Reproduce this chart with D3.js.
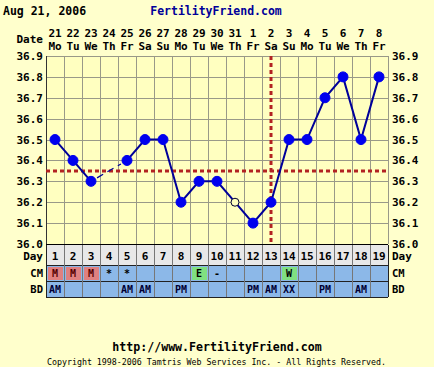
<!DOCTYPE html>
<html>
<head>
<title>Chart</title>
<script src="https://cdnjs.cloudflare.com/ajax/libs/d3/7.8.5/d3.min.js"></script>
<style>
	body { margin: 0; background: #ffffcc; }
	svg { display: block; font-family: "DejaVu Sans Mono", monospace; font-weight: bold; }
</style>
</head>
<body>
<script>
	// data
	var days = [1,2,3,4,5,6,7,8,9,10,11,12,13,14,15,16,17,18,19];
	var dates = ["21","22","23","24","25","26","27","28","29","30","31","1","2","3","4","5","6","7","8"];
	var weekdays = ["Mo","Tu","We","Th","Fr","Sa","Su","Mo","Tu","We","Th","Fr","Sa","Su","Mo","Tu","We","Th","Fr"];
	var temps = [36.5,36.4,36.3,null,36.4,36.5,36.5,36.2,36.3,36.3,36.2,36.1,36.2,36.5,36.5,36.7,36.8,36.5,36.8];
	var discarded = [11];
	var cm = ["M","M","M","*","*","","","","E","-","","","","W","","","","",""];
	var bd = ["AM","","","","AM","AM","","PM","","","","PM","AM","XX","","PM","","AM",""];
	var tempTicks = [36.0,36.1,36.2,36.3,36.4,36.5,36.6,36.7,36.8,36.9];
	var coverline = 36.35;
	var ovulationDay = 13;

	var width = 434, height = 367;
	var plotLeft = 46, plotRight = 388, plotTop = 56, plotBottom = 244;

	var svg = d3.select("body").append("svg")
		.attr("width", width).attr("height", height);

	var x = d3.scaleBand().domain(days).range([plotLeft, plotRight]);
	var y = d3.scaleLinear().domain([36.0, 36.9]).range([plotBottom, plotTop]);
	var cx = function(d) { return x(d) + x.bandwidth() / 2; };
	var edge = function(d) { return (d == 20 ? plotRight : x(d)) + 0.5; };

	// header
	svg.append("text").attr("x", 3).attr("y", 15).style("font-size", "11.5px").text("Aug 21, 2006");
	svg.append("text").attr("x", 216).attr("y", 15).attr("text-anchor", "middle")
		.style("font-size", "11.5px").attr("fill", "#000099").text("FertilityFriend.com");

	svg.append("text").attr("x", 43).attr("y", 43).attr("text-anchor", "end").style("font-size", "11px").text("Date");
	svg.selectAll(".date").data(days).enter().append("text")
		.attr("x", cx).attr("y", 37).attr("text-anchor", "middle").style("font-size", "11px")
		.text(function(d, i) { return dates[i]; });
	svg.selectAll(".wd").data(days).enter().append("text")
		.attr("x", cx).attr("y", 50).attr("text-anchor", "middle").style("font-size", "11px")
		.text(function(d, i) { return weekdays[i]; });

	// plot area
	svg.append("rect").attr("x", plotLeft).attr("y", plotTop).attr("width", plotRight - plotLeft).attr("height", plotBottom - plotTop)
		.attr("fill", "#ffffc0");
	svg.selectAll(".hg").data(tempTicks).enter().append("line")
		.attr("x1", plotLeft).attr("x2", plotRight)
		.attr("y1", function(d) { return Math.round(y(d)) + 0.5; })
		.attr("y2", function(d) { return Math.round(y(d)) + 0.5; })
		.attr("stroke", "#999988").attr("stroke-width", 1);
	svg.selectAll(".vg").data(days.concat([20])).enter().append("line")
		.attr("x1", edge).attr("x2", edge)
		.attr("y1", plotTop).attr("y2", plotBottom)
		.attr("stroke", "#999988").attr("stroke-width", 1);
	svg.append("line").attr("x1", plotLeft + 0.5).attr("x2", plotLeft + 0.5).attr("y1", plotTop).attr("y2", plotBottom).attr("stroke", "#333");

	// tick labels
	svg.selectAll(".yl").data(tempTicks).enter().append("text")
		.attr("x", 43).attr("y", function(d) { return y(d) + 4; }).attr("text-anchor", "end")
		.style("font-size", "11px").text(function(d) { return d.toFixed(1); });
	svg.selectAll(".yr").data(tempTicks).enter().append("text")
		.attr("x", 392).attr("y", function(d) { return y(d) + 4; })
		.style("font-size", "11px").text(function(d) { return d.toFixed(1); });

	// coverline and ovulation line
	svg.append("line").attr("x1", plotLeft).attr("x2", plotRight).attr("y1", y(coverline)).attr("y2", y(coverline))
		.attr("stroke", "#b22222").attr("stroke-width", 3).attr("stroke-dasharray", "4,3");
	svg.append("line").attr("x1", cx(ovulationDay)).attr("x2", cx(ovulationDay)).attr("y1", plotTop).attr("y2", plotBottom)
		.attr("stroke", "#b22222").attr("stroke-width", 3).attr("stroke-dasharray", "4,3");

	// temperature line
	var pts = days.map(function(d, i) { return { day: d, t: temps[i] }; });
	var line = d3.line().defined(function(d) { return d.t != null; })
		.x(function(d) { return cx(d.day); }).y(function(d) { return y(d.t); });
	svg.append("path").datum(pts).attr("d", line).attr("fill", "none")
		.attr("stroke", "#000099").attr("stroke-width", 2);

	// dashed across gaps
	var valid = pts.filter(function(d) { return d.t != null; });
	for (var i = 1; i < valid.length; i++) {
		if (valid[i].day - valid[i - 1].day > 1) {
			var a = valid[i - 1], b = valid[i];
			var dx = cx(b.day) - cx(a.day), dy = y(b.t) - y(a.t), len = Math.sqrt(dx * dx + dy * dy);
			var sh = 7 / len;
			svg.append("line")
				.attr("x1", cx(a.day) + dx * sh).attr("y1", y(a.t) + dy * sh)
				.attr("x2", cx(b.day) - dx * sh).attr("y2", y(b.t) - dy * sh)
				.attr("stroke", "#000099").attr("stroke-width", 1.3).attr("stroke-dasharray", "7,5");
		}
	}

	svg.selectAll(".pt").data(valid).enter().append("circle")
		.attr("cx", function(d) { return cx(d.day); }).attr("cy", function(d) { return y(d.t); })
		.attr("r", function(d) { return discarded.indexOf(d.day) >= 0 ? 4 : 5; })
		.attr("fill", function(d) { return discarded.indexOf(d.day) >= 0 ? "#ffffc0" : "#0000ee"; })
		.attr("stroke", function(d) { return discarded.indexOf(d.day) >= 0 ? "#000033" : "#0000ee"; })
		.attr("stroke-width", 1);

	svg.append("line").attr("x1", plotLeft).attr("x2", plotRight).attr("y1", plotBottom + 0.5).attr("y2", plotBottom + 0.5).attr("stroke", "#000");

	// table rows
	var rows = [
		{ name: "Day", y0: 245, y1: 265, fill: "#e8e8e8", vals: days.map(String) },
		{ name: "CM", y0: 266, y1: 281, fill: "#8cb8e8", vals: cm },
		{ name: "BD", y0: 282, y1: 297, fill: "#8cb8e8", vals: bd }
	];
	var cellFill = { "M": "#e08080", "E": "#80e080", "W": "#80e080" };
	rows.forEach(function(r) {
		var ty = r.name == "Day" ? 260 : r.y1 - 4;
		svg.append("rect").attr("x", plotLeft).attr("y", r.y0).attr("width", plotRight - plotLeft).attr("height", r.y1 - r.y0)
			.attr("fill", r.fill);
		if (r.name == "CM") {
			svg.selectAll(".cmc").data(days.filter(function(d, i) { return cellFill[cm[i]]; })).enter().append("rect")
				.attr("x", function(d) { return x(d) + 2; }).attr("y", r.y0 + 1)
				.attr("width", x.bandwidth() - 3).attr("height", r.y1 - r.y0 - 2)
				.attr("fill", function(d) { return cellFill[cm[d - 1]]; });
		}
		svg.selectAll(".tc" + r.name).data(days).enter().append("text")
			.attr("x", cx).attr("y", ty).attr("text-anchor", "middle")
			.style("font-size", r.name == "Day" ? "11px" : "10px")
			.attr("fill", function(d, i) { return r.vals[i] == "M" ? "#550000" : (r.name == "BD" ? "#000033" : "#000"); })
			.text(function(d, i) { return r.vals[i]; });
		svg.append("text").attr("x", 43).attr("y", ty).attr("text-anchor", "end")
			.style("font-size", r.name == "Day" ? "11px" : "10.5px").text(r.name);
		svg.append("text").attr("x", 392).attr("y", ty)
			.style("font-size", r.name == "Day" ? "11px" : "10.5px").text(r.name);
	});
	// table dividers
	[265.5, 281.5, 297.5].forEach(function(yy) {
		svg.append("line").attr("x1", plotLeft).attr("x2", plotRight).attr("y1", yy).attr("y2", yy).attr("stroke", "#222");
	});
	svg.selectAll(".tv").data(days.concat([20])).enter().append("line")
		.attr("x1", edge).attr("x2", edge)
		.attr("y1", 245).attr("y2", 297)
		.attr("stroke", function(d) { return (d == 1 || d == 20) ? "#222" : "#777"; });

	// footer
	svg.append("text").attr("x", 217).attr("y", 351).attr("text-anchor", "middle")
		.style("font-size", "11.6px").text("http://www.FertilityFriend.com");
	svg.append("text").attr("x", 47).attr("y", 365)
		.attr("textLength", 339).attr("lengthAdjust", "spacingAndGlyphs")
		.style("font-size", "8.5px").style("font-weight", "normal")
		.text("Copyright 1998-2006 Tamtris Web Services Inc. - All Rights Reserved.");
</script>
</body>
</html>
